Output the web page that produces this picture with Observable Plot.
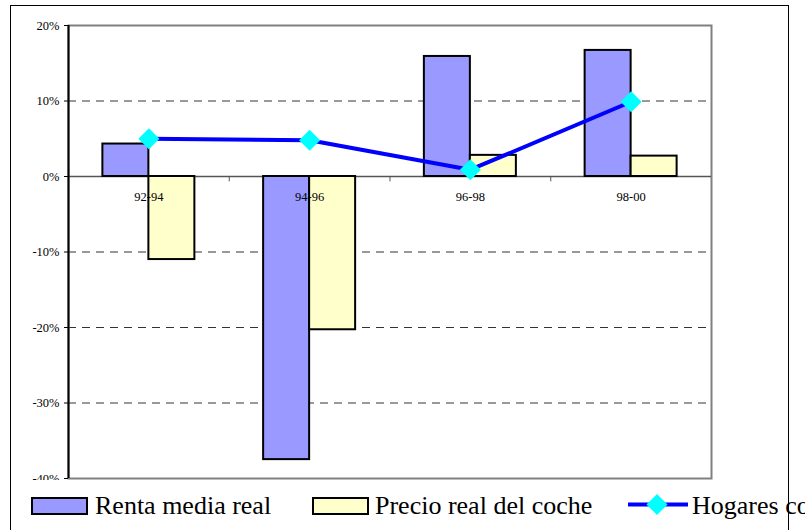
<!DOCTYPE html>
<html>
<head>
<meta charset="utf-8">
<script src="https://cdn.jsdelivr.net/npm/d3@7"></script>
<script src="https://cdn.jsdelivr.net/npm/@observablehq/plot@0.6"></script>
<style>
  html, body { margin: 0; padding: 0; background: #fff; overflow: hidden; }
  #wrap { position: relative; width: 805px; height: 530px; overflow: hidden; }
  #chart { position: absolute; left: 0; top: 0; }
  #legend { position: absolute; left: 0; top: 0; }
  #frame { position: absolute; left: 10px; top: 5px; width: 777px; height: 600px; border: 1px solid #000; pointer-events: none; }
</style>
</head>
<body>
<div id="wrap">
  <div id="chart"></div>
  <svg id="legend" width="805" height="530"></svg>
  <div id="frame"></div>
</div>
<script>
// ---- data ----
const categories = ["92-94", "94-96", "96-98", "98-00"];
const rentaMediaReal = [0.043, -0.375, 0.159, 0.167];
const precioRealCoche = [-0.110, -0.203, 0.028, 0.027];
const hogaresConCoche = [0.050, 0.048, 0.009, 0.099];
const yTicks = [0.2, 0.1, 0, -0.1, -0.2, -0.3, -0.4];
const gridValues = [0.1, -0.1, -0.2, -0.3];
const seriesNames = ["Renta media real", "Precio real del coche", "Hogares con coche"];

// ---- layout ----
const W = 805, H = 530;
const mL = 68, mR = 94, mT = 25, mB = 52;
const bw = (W - mL - mR) / categories.length; // band width
const barW = 46;

const renta = categories.map((c, i) => ({cat: c, v: rentaMediaReal[i]}));
const precio = categories.map((c, i) => ({cat: c, v: precioRealCoche[i]}));
const hogares = categories.map((c, i) => ({cat: c, v: hogaresConCoche[i]}));

const font = "'Liberation Serif', 'Times New Roman', serif";

const plot = Plot.plot({
  width: W,
  height: H,
  marginLeft: mL,
  marginRight: mR,
  marginTop: mT,
  marginBottom: mB,
  style: {fontFamily: font, fontSize: "12px", background: "transparent", color: "#000"},
  x: {domain: categories, padding: 0, round: false, axis: null},
  y: {domain: [-0.4, 0.2], axis: null},
  marks: [
    Plot.ruleY(gridValues, {stroke: "#333", strokeWidth: 1, strokeDasharray: "8,6"}),
    Plot.frame({stroke: "#808080", strokeWidth: 2}),
    Plot.ruleY([0], {stroke: "#555", strokeWidth: 1.5}),
    // small tick marks at band boundaries on zero line
    Plot.ruleX(categories.slice(1), {x: d => d, y1: 0, y2: -0.007, dx: -bw / 2, stroke: "#555"}),
    Plot.barY(renta, {x: "cat", y: "v", fill: "#9999FF", stroke: "#000", strokeWidth: 2,
      insetLeft: bw / 2 - barW, insetRight: bw / 2}),
    Plot.barY(precio, {x: "cat", y: "v", fill: "#FFFFCC", stroke: "#000", strokeWidth: 2,
      insetLeft: bw / 2, insetRight: bw / 2 - barW}),
    Plot.line(hogares, {x: "cat", y: "v", stroke: "#0000FF", strokeWidth: 4}),
    Plot.dot(hogares, {x: "cat", y: "v", symbol: "diamond2", r: 9.5, fill: "#00FFFF", stroke: null}),
    Plot.text(categories, {x: d => d, y: () => 0, dy: 20, text: d => d, fill: "#000", fontSize: 12.5}),
    // left axis line
    Plot.ruleX([categories[0]], {x: d => d, dx: -bw / 2, stroke: "#000", strokeWidth: 2}),
    Plot.axisY({ticks: yTicks, tickFormat: d => Math.round(d * 100) + "%", tickSize: 4, tickPadding: 5,
      stroke: "#000", fill: "#000", fontSize: 12.5, label: null}),
  ]
});
document.getElementById("chart").appendChild(plot);

// ---- legend ----
const lg = d3.select("#legend");
lg.append("rect").attr("x", 11).attr("y", 480).attr("width", 776).attr("height", 60).attr("fill", "#fff");
const lgFont = 26;
const items = [
  {type: "bar", fill: "#9999FF", x: 31, tx: 95},
  {type: "bar", fill: "#FFFFCC", x: 312, tx: 375},
  {type: "line", x: 628, tx: 692}
];
items.forEach((it, i) => {
  if (it.type === "bar") {
    lg.append("rect").attr("x", it.x + 1).attr("y", 498).attr("width", 55).attr("height", 16)
      .attr("fill", it.fill).attr("stroke", "#000").attr("stroke-width", 2);
  } else {
    lg.append("line").attr("x1", it.x).attr("x2", it.x + 60).attr("y1", 504.5).attr("y2", 504.5)
      .attr("stroke", "#0000FF").attr("stroke-width", 4);
    const s = d3.symbol(d3.symbolDiamond2, Math.PI * 9.5 * 9.5)();
    lg.append("path").attr("d", s).attr("transform", `translate(${it.x + 29},504.5)`).attr("fill", "#00FFFF");
  }
  lg.append("text").attr("x", it.tx).attr("y", 514).attr("font-family", font).attr("font-size", lgFont)
    .attr("fill", "#000").text(seriesNames[i]);
});
</script>
</body>
</html>
